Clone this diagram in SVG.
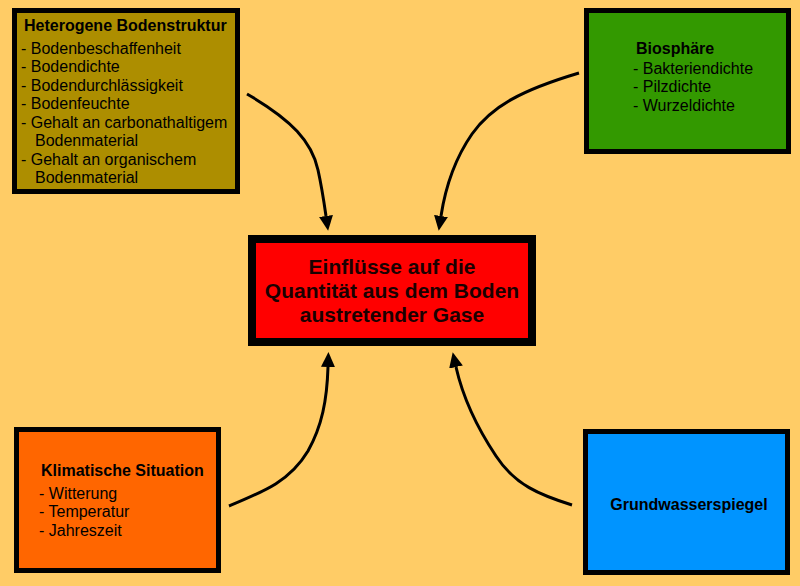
<svg xmlns="http://www.w3.org/2000/svg" width="800" height="586" viewBox="0 0 800 586">
<defs>
<marker id="ah" markerUnits="userSpaceOnUse" markerWidth="15" markerHeight="14" viewBox="0 0 15 14" refX="0" refY="7" orient="auto">
<path d="M0,0 L15,7 L0,14 z" fill="#000"/>
</marker>
</defs>
<style>
.box{stroke:#000;stroke-width:5}
.t{font-family:"Liberation Sans",Arial,sans-serif;font-size:16px;fill:#000}
.b{font-weight:bold}
.c{font-family:"Liberation Sans",Arial,sans-serif;font-size:21px;font-weight:bold;fill:#1a0000;text-anchor:middle}
.con{fill:none;stroke:#000;stroke-width:3;marker-end:url(#ah)}
</style>
<rect x="0" y="0" width="800" height="586" fill="#ffcc66"/>
<g id="connectors">
<path class="con" d="M247,94 C292,120 312,142 318,170 C322,188 324,202 326,216"/>
<path class="con" d="M579,73 C522,90 492,106 472,134 C454,160 445,190 441,216"/>
<path class="con" d="M229,506 C265,491 290,481 308,451 C322,426 327,400 328,367"/>
<path class="con" d="M572,505 C540,495 515,485 496,456 C476,426 463,398 456,367"/>
</g>
<g id="heterogene">
<rect class="box" x="14.5" y="10.5" width="223" height="181" fill="#ad8e00"/>
<text class="t b" x="24" y="31">Heterogene Bodenstruktur</text>
<text class="t" x="21" y="54">- Bodenbeschaffenheit</text>
<text class="t" x="21" y="72">- Bodendichte</text>
<text class="t" x="21" y="91">- Bodendurchlässigkeit</text>
<text class="t" x="21" y="109">- Bodenfeuchte</text>
<text class="t" x="21" y="128">- Gehalt an carbonathaltigem</text>
<text class="t" x="35" y="146">Bodenmaterial</text>
<text class="t" x="21" y="165">- Gehalt an organischem</text>
<text class="t" x="35" y="183">Bodenmaterial</text>
</g>
<g id="biosphaere">
<rect class="box" x="586.5" y="10.5" width="202" height="141" fill="#339900"/>
<text class="t b" x="636" y="54">Biosphäre</text>
<text class="t" x="633" y="74">- Bakteriendichte</text>
<text class="t" x="633" y="92">- Pilzdichte</text>
<text class="t" x="633" y="111">- Wurzeldichte</text>
</g>
<g id="center">
<rect x="252" y="239" width="280" height="103" fill="#ff0000" stroke="#000" stroke-width="8"/>
<text class="c" x="392" y="274">Einflüsse auf die</text>
<text class="c" x="392" y="298">Quantität aus dem Boden</text>
<text class="c" x="392" y="322">austretender Gase</text>
</g>
<g id="klima">
<rect class="box" x="16.5" y="429.5" width="202" height="141" fill="#ff6600"/>
<text class="t b" x="41" y="476">Klimatische Situation</text>
<text class="t" x="39" y="499">- Witterung</text>
<text class="t" x="39" y="517">- Temperatur</text>
<text class="t" x="39" y="536">- Jahreszeit</text>
</g>
<g id="grundwasser">
<rect class="box" x="585.5" y="431.5" width="202" height="141" fill="#0094ff"/>
<text class="t b" x="689" y="510" text-anchor="middle">Grundwasserspiegel</text>
</g>
</svg>
